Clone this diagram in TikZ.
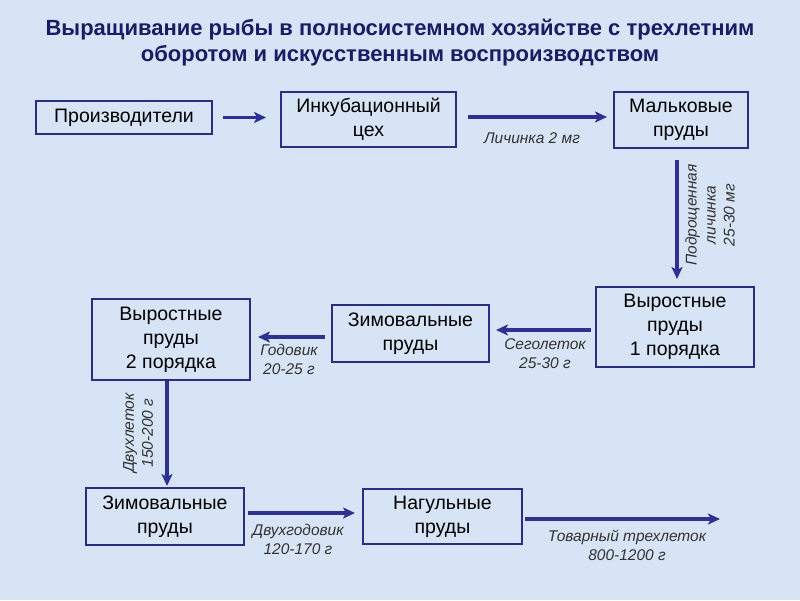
\documentclass[tikz,border=0pt]{standalone}
\usepackage{fontspec}
\setmainfont{Liberation Sans}
\usepackage{xcolor}
\usetikzlibrary{arrows.meta}

\definecolor{bgblue}{RGB}{214,228,245}
\definecolor{boxblue}{RGB}{44,46,132}
\definecolor{arrblue}{RGB}{46,49,146}
\definecolor{titleblue}{RGB}{26,28,100}

\tikzset{
	pond/.style={draw=boxblue, line width=2pt, align=center, inner sep=0pt,
		font=\fontsize{19.5}{24}\selectfont},
	flow/.style={draw=arrblue, line width=3.5pt, -{Stealth[length=12pt,width=11pt,inset=3pt]}},
	fish/.style={align=center, text=black!80, inner sep=0pt,
		font=\itshape\fontsize{15.5}{19}\selectfont}
}

\begin{document}
\begin{tikzpicture}[x=1pt,y=-1pt]

\fill[bgblue] (0,0) rectangle (800,600);

\node[align=center, text=titleblue, font=\bfseries\fontsize{22}{25.5}\selectfont] (title) at (400,42.5) {Выращивание рыбы в полносистемном хозяйстве с трехлетним\\оборотом и искусственным воспроизводством};

\node[pond, minimum width=176, minimum height=33] (prod) at (124,117.5) {Производители};
\node[pond, minimum width=175, minimum height=55] (inc) at (368.5,119.5) {Инкубационный\\цех};
\node[pond, minimum width=134, minimum height=56] (mal) at (681,120) {Мальковые\\пруды};
\node[pond, minimum width=158, minimum height=80] (vyr1) at (675,327) {Выростные\\пруды\\1 порядка};
\node[pond, minimum width=157, minimum height=57] (zimA) at (410.5,333.5) {Зимовальные\\пруды};
\node[pond, minimum width=158, minimum height=81] (vyr2) at (171,339.5) {Выростные\\пруды\\2 порядка};
\node[pond, minimum width=158, minimum height=57] (zimB) at (165,516.5) {Зимовальные\\пруды};
\node[pond, minimum width=159, minimum height=55] (nag) at (442.5,516.5) {Нагульные\\пруды};
\coordinate (sale) at (720,519);

%arrows
\draw[flow, shorten <=10pt, shorten >=14pt] (prod.east) -- (prod.east -| inc.west);
\draw[flow, shorten <=11pt, shorten >=6pt] ([yshift=2.5pt]inc.east) -- ([yshift=2.5pt]inc.east -| mal.west);
\draw[flow, shorten <=11pt, shorten >=7pt] ([xshift=-4pt]mal.south) -- ([xshift=-4pt]mal.south |- vyr1.north);
\draw[flow, shorten <=4pt, shorten >=6pt] ([yshift=-3pt]vyr1.west) -- ([yshift=-3pt]vyr1.west -| zimA.east);
\draw[flow, shorten <=6pt, shorten >=7pt] ([yshift=-3.5pt]zimA.west) -- ([yshift=-3.5pt]zimA.west -| vyr2.east);
\draw[flow, shorten >=1pt] ([xshift=-4pt]vyr2.south) -- ([xshift=-4pt]vyr2.south |- zimB.north);
\draw[flow, shorten <=3pt, shorten >=7pt] ([yshift=3.5pt]zimB.east) -- ([yshift=3.5pt]zimB.east -| nag.west);
\draw[flow, shorten <=2pt] ([yshift=-2.5pt]nag.east) -- ([yshift=-2.5pt]nag.east -| sale);

%labels
\node[fish] (l1) at (532,138) {Личинка 2 мг};
\node[fish, rotate=90] (l2) at (710,215) {Подрощенная\\личинка\\25-30 мг};
\node[fish] (l3) at (545,354) {Сеголеток\\25-30 г};
\node[fish] (l4) at (289,359) {Годовик\\20-25 г};
\node[fish, rotate=90] (l5) at (138,433) {Двухлеток\\150-200 г};
\node[fish] (l6) at (298,539) {Двухгодовик\\120-170 г};
\node[fish] (l7) at (627,545) {Товарный трехлеток\\800-1200 г};

\end{tikzpicture}
\end{document}
